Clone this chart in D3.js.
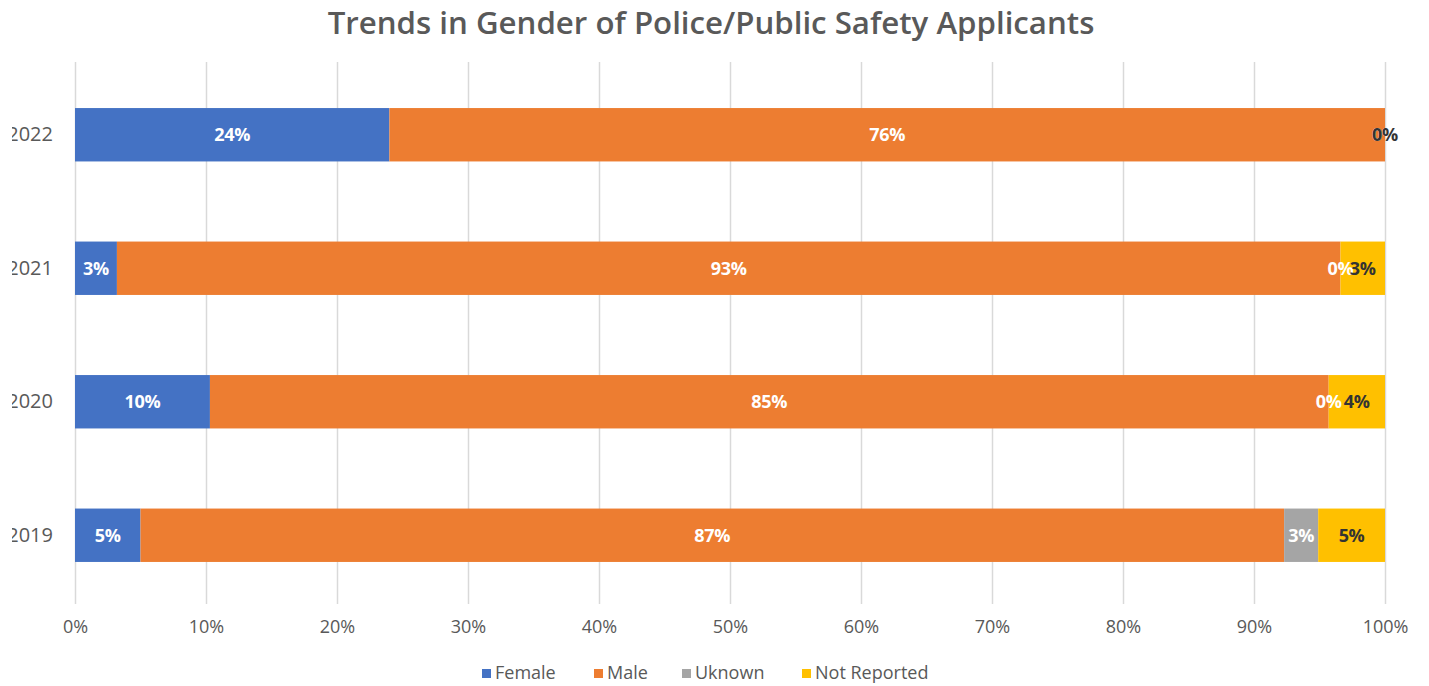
<!DOCTYPE html>
<html>
<head>
<meta charset="utf-8">
<script src="https://cdn.jsdelivr.net/npm/d3@7/dist/d3.min.js"></script>
<style>
  html, body { margin: 0; padding: 0; background: #ffffff; }
  svg { display: block; }
</style>
</head>
<body>
<svg id="chart" width="1429" height="686"></svg>
<script>
// Share of applicants by gender, per year (percent of total)
const years = ["2022", "2021", "2020", "2019"];
const female = [24.0, 3.2, 10.3, 5.0];
const male = [76.0, 93.4, 85.4, 87.3];
const unknown = [0.0, 0.0, 0.0, 2.6];
const notReported = [0.0, 3.4, 4.3, 5.1];

const seriesKeys = ["female", "male", "unknown", "notReported"];
const seriesNames = ["Female", "Male", "Uknown", "Not Reported"];
const seriesColors = ["#4472C4", "#ED7D31", "#A5A5A5", "#FFC000"];
const labelColors = ["#ffffff", "#ffffff", "#ffffff", "#333333"];
const xTicks = [0, 10, 20, 30, 40, 50, 60, 70, 80, 90, 100];

const titleText = "Trends in Gender of Police/Public Safety Applicants";

const rows = years.map((y, i) => ({
  year: y,
  female: female[i],
  male: male[i],
  unknown: unknown[i],
  notReported: notReported[i]
}));

const svg = d3.select("#chart");
const W = 1429, H = 686;
const plot = { left: 75, right: 1385, top: 62, bottom: 604 };

const x = d3.scaleLinear().domain([0, 100]).range([plot.left, plot.right]);
const y = d3.scaleBand().domain(years).range([68, 602]).paddingInner(0.6).paddingOuter(0.3);
const color = d3.scaleOrdinal().domain(seriesKeys).range(seriesColors);
const labelColor = d3.scaleOrdinal().domain(seriesKeys).range(labelColors);

// Title, scaled so it spans its intended width
const title = svg.append("text")
  .attr("x", 711)
  .attr("y", 34)
  .attr("text-anchor", "middle")
  .attr("font-family", "'Open Sans', sans-serif")
  .attr("font-weight", 600)
  .attr("font-size", 26)
  .attr("fill", "#595959")
  .text(titleText);
{
  const w = title.node().getComputedTextLength();
  title.attr("font-size", 26 * 767 / w);
}

// Vertical gridlines
const grid = svg.append("g");
grid.selectAll("line")
  .data(xTicks)
  .join("line")
  .attr("x1", d => x(d) + 0.5)
  .attr("x2", d => x(d) + 0.5)
  .attr("y1", plot.top)
  .attr("y2", plot.bottom)
  .attr("stroke", "#d9d9d9")
  .attr("stroke-width", 1.5);

// X axis labels
const xAxis = d3.axisBottom(x)
  .tickValues(xTicks)
  .tickFormat(d => d + "%")
  .tickSize(0)
  .tickPadding(0);
const xg = svg.append("g")
  .attr("transform", `translate(0, 620)`)
  .call(xAxis);
xg.select(".domain").remove();
xg.selectAll("text")
  .attr("dy", "0.72em")
  .attr("font-family", "'Open Sans', sans-serif")
  .attr("font-size", 18)
  .attr("fill", "#595959");

// Y axis labels (category years); the left margin trims the leading digit
svg.append("defs").append("clipPath").attr("id", "yclip")
  .append("rect").attr("x", 12).attr("y", 0).attr("width", 200).attr("height", H);
const yAxis = d3.axisLeft(y).tickSize(0).tickPadding(0);
const yg = svg.append("g")
  .attr("clip-path", "url(#yclip)")
  .append("g")
  .attr("transform", `translate(53, 0)`)
  .call(yAxis);
yg.select(".domain").remove();
yg.selectAll("text")
  .attr("font-family", "'Open Sans', sans-serif")
  .attr("font-size", 20)
  .attr("fill", "#595959");

// Stacked bars
const stacked = d3.stack().keys(seriesKeys)(rows);

const layers = svg.append("g").selectAll("g")
  .data(stacked)
  .join("g")
  .attr("fill", d => color(d.key));

layers.selectAll("rect")
  .data(d => d)
  .join("rect")
  .attr("x", d => x(d[0]))
  .attr("width", d => Math.max(0, x(d[1]) - x(d[0])))
  .attr("y", d => y(d.data.year))
  .attr("height", y.bandwidth());

// Data labels, centered in each segment
const labelLayers = svg.append("g").selectAll("g")
  .data(stacked)
  .join("g")
  .attr("fill", d => labelColor(d.key));

labelLayers.selectAll("text")
  .data(d => d.map(s => ({ s, key: d.key })))
  .join("text")
  .attr("x", d => (x(d.s[0]) + x(d.s[1])) / 2)
  .attr("y", d => y(d.s.data.year) + y.bandwidth() / 2)
  .attr("dy", "0.36em")
  .attr("text-anchor", "middle")
  .attr("font-family", "'Open Sans', sans-serif")
  .attr("font-weight", 700)
  .attr("font-size", 18)
  .attr("letter-spacing", "-0.3px")
  .text(d => Math.round(d.s[1] - d.s[0]) + "%");

// Legend
const legendTextX = [495, 607, 695, 815];
const legend = svg.append("g").selectAll("g")
  .data(seriesKeys)
  .join("g")
  .attr("transform", (d, i) => `translate(${legendTextX[i]}, 673)`);
legend.append("rect")
  .attr("x", -13)
  .attr("y", -4)
  .attr("width", 9)
  .attr("height", 9)
  .attr("fill", d => color(d));
legend.append("text")
  .attr("x", 0)
  .attr("y", 0)
  .attr("dy", "0.36em")
  .attr("font-family", "'Open Sans', sans-serif")
  .attr("font-size", 18)
  .attr("fill", "#595959")
  .text((d, i) => seriesNames[i]);
</script>
</body>
</html>
